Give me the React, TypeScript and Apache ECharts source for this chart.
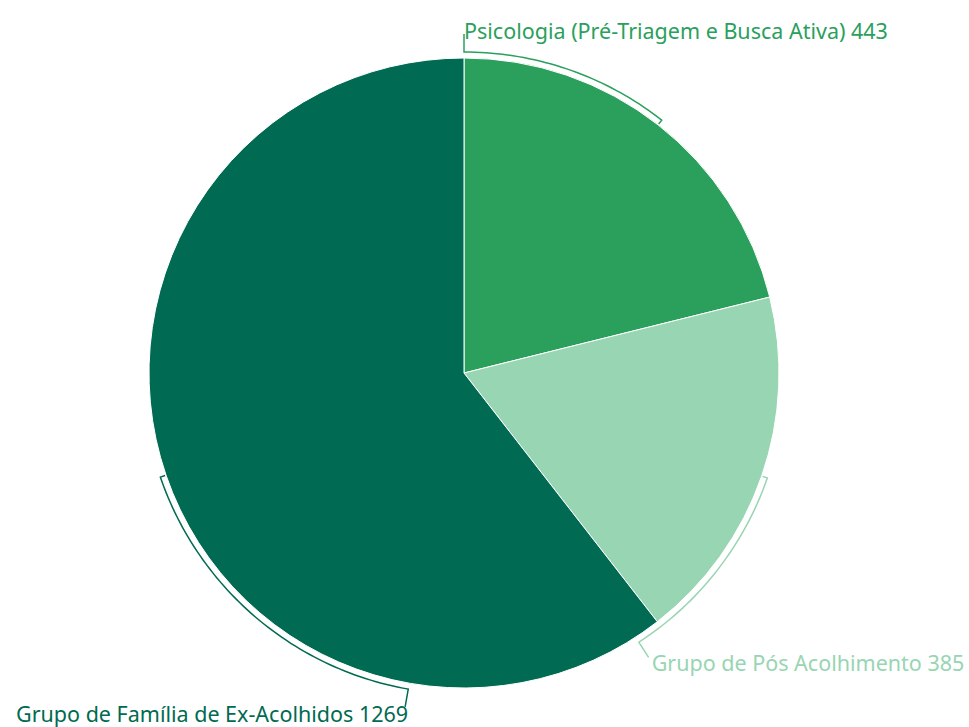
import React, { useEffect, useRef } from "react";
import * as echarts from "echarts";

const categories = [
  "Psicologia (Pré-Triagem e Busca Ativa)",
  "Grupo de Pós Acolhimento",
  "Grupo de Família de Ex-Acolhidos",
];
const values = [443, 385, 1269];
const colors = ["#2aa05c", "#98d5b3", "#006a52"];
// angle (deg, clockwise from top) where each bracket meets its label
const labelAngles = [0, 147, 190];
// label placement styles
const labelAligns = ["left", "left", "right"];
const labelOffsets = [
  [0, -4],
  [3, 5],
  [3, 7],
];

const CX = 464;
const CY = 373;
const R = 315;
const RB = 321;
const RIN = 316;
const ROUT = 339;

function pt(angleDeg: number, r: number): [number, number] {
  const a = (angleDeg * Math.PI) / 180;
  return [CX + r * Math.sin(a), CY - r * Math.cos(a)];
}

export default function App() {
  const ref = useRef<HTMLDivElement>(null);
  useEffect(() => {
    if (!ref.current) return;
    const chart = echarts.init(ref.current, undefined, { renderer: "svg" });
    const total = values.reduce((a, b) => a + b, 0);
    const graphics: any[] = [];
    let acc = 0;
    values.forEach((v, i) => {
      const start = (acc / total) * 360;
      const end = ((acc + v) / total) * 360;
      acc += v;
      const mid = (start + end) / 2;
      const la = labelAngles[i];
      const pts: [number, number][] = [];
      pts.push(pt(mid, RIN));
      const steps = Math.max(2, Math.ceil(Math.abs(la - mid)));
      for (let s = 0; s <= steps; s++) {
        pts.push(pt(mid + ((la - mid) * s) / steps, RB));
      }
      const outer = pt(la, ROUT);
      pts.push(outer);
      graphics.push({
        type: "polyline",
        shape: { points: pts },
        style: { stroke: colors[i], lineWidth: 1.5, fill: "none" },
        silent: true,
      });
      graphics.push({
        type: "text",
        x: outer[0] + labelOffsets[i][0],
        y: outer[1] + labelOffsets[i][1],
        style: {
          text: `${categories[i]} ${v}`,
          fill: colors[i],
          font: '21.5px "Noto Sans", sans-serif',
          align: labelAligns[i],
          verticalAlign: "middle",
        },
        silent: true,
      });
    });
    chart.setOption({
      animation: false,
      series: [
        {
          type: "pie",
          center: [CX, CY],
          radius: [0, R],
          startAngle: 90,
          clockwise: true,
          label: { show: false },
          labelLine: { show: false },
          itemStyle: { borderColor: "#ffffff", borderWidth: 1 },
          data: categories.map((c, i) => ({
            name: c,
            value: values[i],
            itemStyle: { color: colors[i] },
          })),
        },
      ],
      graphic: graphics,
    });
    return () => chart.dispose();
  }, []);
  return (
    <div
      ref={ref}
      style={{ position: "fixed", left: 0, top: 0, width: 969, height: 727, background: "#fff" }}
    />
  );
}
